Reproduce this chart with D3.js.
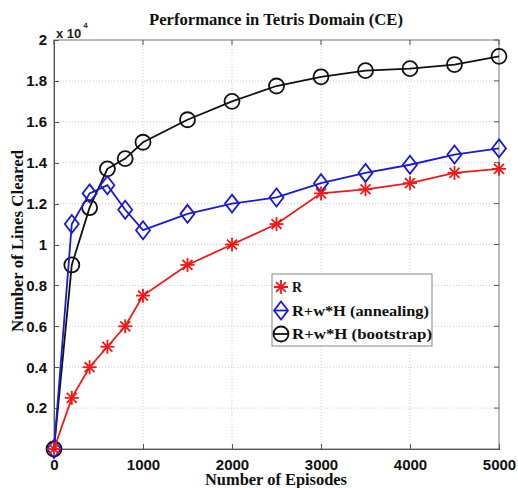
<!DOCTYPE html>
<meta charset="utf-8">
<style>
    body { margin: 0; background: #fff; }
    .axis path, .axis line { fill: none; stroke: #555; shape-rendering: crispEdges; }
    .axis text { font-family: "Liberation Sans", Arial, sans-serif; font-size: 15px; font-weight: bold; fill: #111; }
    .grid line { stroke: #ccc; stroke-dasharray: 1,2; }
    .lbl { font-family: "Liberation Serif", "Times New Roman", serif; font-weight: bold; fill: #111; }
</style>
<div id="chart"></div>
<script src="https://cdn.jsdelivr.net/npm/d3@7"></script>
<script>
    // episodes
    var episodes = [0, 200, 400, 600, 800, 1000, 1500, 2000, 2500, 3000, 3500, 4000, 4500, 5000];
    // lines cleared (x 10^4)
    var seriesR         = [0, 0.25, 0.40, 0.50, 0.60, 0.75, 0.90, 1.00, 1.10, 1.25, 1.27, 1.30, 1.35, 1.37];
    var seriesAnnealing = [0, 1.10, 1.25, 1.29, 1.17, 1.07, 1.15, 1.20, 1.23, 1.30, 1.35, 1.39, 1.44, 1.47];
    var seriesBootstrap = [0, 0.90, 1.18, 1.37, 1.42, 1.50, 1.61, 1.70, 1.775, 1.82, 1.85, 1.86, 1.88, 1.92];
    var seriesNames = ["R", "R+w*H (annealing)", "R+w*H (bootstrap)"];
    var xTicks = [0, 1000, 2000, 3000, 4000, 5000];
    var yTicks = [0.2, 0.4, 0.6, 0.8, 1, 1.2, 1.4, 1.6, 1.8, 2];

    var W = 518, H = 488;
    var margin = {top: 40, right: 19, bottom: 39, left: 54};
    var width = W - margin.left - margin.right,
        height = H - margin.top - margin.bottom;

    var svg = d3.select("#chart").append("svg")
        .attr("width", W).attr("height", H);

    var g = svg.append("g")
        .attr("transform", "translate(" + margin.left + "," + margin.top + ")");

    var x = d3.scaleLinear().domain([0, 5000]).range([0, width]);
    var y = d3.scaleLinear().domain([0, 2]).range([height, 0]);

    // grid
    g.append("g").attr("class", "grid")
        .selectAll("line").data(xTicks.slice(1, -1)).enter().append("line")
        .attr("x1", d => x(d)).attr("x2", d => x(d))
        .attr("y1", 0).attr("y2", height);
    g.append("g").attr("class", "grid")
        .selectAll("line").data(yTicks.slice(0, -1)).enter().append("line")
        .attr("x1", 0).attr("x2", width)
        .attr("y1", d => y(d)).attr("y2", d => y(d));

    // box
    g.append("rect").attr("width", width).attr("height", height)
        .attr("fill", "none").attr("stroke", "#777");

    var xAxis = d3.axisBottom(x).tickValues(xTicks).tickSizeInner(-5).tickSizeOuter(0).tickPadding(10)
        .tickFormat(d3.format("d"));
    g.append("g").attr("class", "x axis")
        .attr("transform", "translate(0," + height + ")")
        .call(xAxis);

    var yAxis = d3.axisLeft(y).tickValues(yTicks).tickSizeInner(-5).tickSizeOuter(0).tickPadding(7)
        .tickFormat(d3.format(""));
    g.append("g").attr("class", "y axis").call(yAxis);

    // top/right ticks
    g.append("g").selectAll("line").data(xTicks).enter().append("line")
        .attr("x1", d => x(d)).attr("x2", d => x(d)).attr("y1", 0).attr("y2", 5)
        .attr("stroke", "#555");
    g.append("g").selectAll("line").data(yTicks).enter().append("line")
        .attr("x1", width).attr("x2", width - 5).attr("y1", d => y(d)).attr("y2", d => y(d))
        .attr("stroke", "#555");

    // exponent label
    var ex = g.append("text").attr("x", 2).attr("y", -2)
        .style("font-family", "Liberation Sans, Arial, sans-serif").style("font-size", "13px")
        .style("font-weight", "bold").attr("fill", "#222");
    ex.append("tspan").text("x 10");
    ex.append("tspan").attr("dy", -10).attr("dx", 2).style("font-size", "8px").text("4");

    // markers
    function star(sel, c) {
        var r = 7;
        [0, 45, 90, 135].forEach(function(a) {
            var rad = a * Math.PI / 180;
            sel.append("line")
                .attr("x1", -r * Math.cos(rad)).attr("y1", -r * Math.sin(rad))
                .attr("x2", r * Math.cos(rad)).attr("y2", r * Math.sin(rad))
                .attr("stroke", c).attr("stroke-width", 1.8);
        });
    }
    function diamond(sel, c) {
        sel.append("path").attr("d", "M0,-9L7,0L0,9L-7,0Z")
            .attr("fill", "none").attr("stroke", c).attr("stroke-width", 1.8);
    }
    function circle(sel, c) {
        sel.append("circle").attr("r", 7.5)
            .attr("fill", "none").attr("stroke", c).attr("stroke-width", 1.8);
    }

    var series = [
        {name: seriesNames[0], values: seriesR, color: "#f01818", marker: star, len: 10},
        {name: seriesNames[1], values: seriesAnnealing, color: "#1a1ad0", marker: diamond, len: 137},
        {name: seriesNames[2], values: seriesBootstrap, color: "#111", marker: circle, len: 140}
    ];

    var line = d3.line().x((d, i) => x(episodes[i])).y(d => y(d));

    // draw in reverse so red stays on top
    series.slice().reverse().forEach(function(s) {
        g.append("path").datum(s.values)
            .attr("fill", "none").attr("stroke", s.color).attr("stroke-width", 1.8)
            .attr("d", line);
        s.values.forEach(function(v, i) {
            var m = g.append("g").attr("transform", "translate(" + x(episodes[i]) + "," + y(v) + ")");
            s.marker(m, s.color);
        });
    });

    // legend
    var lg = svg.append("g").attr("transform", "translate(272,274)");
    lg.append("rect").attr("width", 160).attr("height", 72)
        .attr("fill", "#fff").attr("stroke", "#888");
    series.forEach(function(s, i) {
        var row = lg.append("g").attr("transform", "translate(0," + (13 + i * 23.5) + ")");
        row.append("line").attr("x1", 2).attr("x2", 16).attr("stroke", s.color).attr("stroke-width", 1.8);
        var m = row.append("g").attr("transform", "translate(9,0)");
        s.marker(m, s.color);
        row.append("text").attr("class", "lbl").attr("x", 20).attr("y", 5)
            .style("font-size", "15px")
            .attr("textLength", s.len).attr("lengthAdjust", "spacingAndGlyphs")
            .text(s.name);
    });

    // titles
    svg.append("text").attr("class", "lbl").attr("x", 276).attr("y", 25)
        .attr("text-anchor", "middle").style("font-size", "16px")
        .attr("textLength", 254).attr("lengthAdjust", "spacingAndGlyphs")
        .text("Performance in Tetris Domain (CE)");
    svg.append("text").attr("class", "lbl").attr("x", 276).attr("y", 485)
        .attr("text-anchor", "middle").style("font-size", "16px")
        .attr("textLength", 142).attr("lengthAdjust", "spacingAndGlyphs")
        .text("Number of Episodes");
    svg.append("text").attr("class", "lbl")
        .attr("transform", "translate(23,241) rotate(-90)")
        .attr("text-anchor", "middle").style("font-size", "16px")
        .attr("textLength", 182).attr("lengthAdjust", "spacingAndGlyphs")
        .text("Number of Lines Cleared");
</script>
